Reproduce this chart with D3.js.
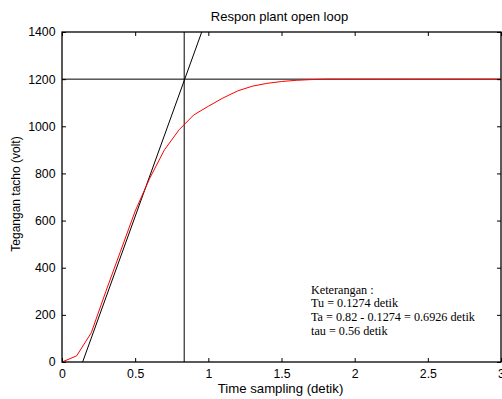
<!DOCTYPE html>
<html><head><meta charset="utf-8">
<script src="https://cdn.jsdelivr.net/npm/d3@7"></script>
<style>body{margin:0;background:#fff}svg{display:block}</style>
</head><body>
<script>
const timeValues = [0,0.1,0.2,0.3,0.4,0.5,0.6,0.7,0.8,0.9,1.0,1.1,1.2,1.3,1.4,1.5,1.6,1.7,1.8,1.9,2.0,2.2,2.4,2.6,2.8,3.0];
const voltValues = [0,26,124,300,470,640,780,900,985,1048,1085,1120,1150,1170,1182,1190,1195,1198,1200,1200,1200,1200,1200,1200,1200,1200];
const tangentX = [0.141,0.955];
const tangentY = [0,1400];
const refTime = 0.835;
const refVolt = 1200;
const xTicks = [0,0.5,1,1.5,2,2.5,3];
const yTicks = [0,200,400,600,800,1000,1200,1400];
const noteLines = ["Keterangan :","Tu = 0.1274 detik","Ta = 0.82 - 0.1274 = 0.6926 detik","tau = 0.56 detik"];

const W=502,H=399;
const m={l:62,r:1,t:32,b:37};
const svg=d3.select("body").append("svg").attr("width",W).attr("height",H);
const x=d3.scaleLinear().domain([0,3]).range([m.l,W-m.r]);
const y=d3.scaleLinear().domain([0,1400]).range([H-m.b,m.t]);
const font="Liberation Sans, Arial, sans-serif";

svg.append("defs").append("clipPath").attr("id","clip").append("rect")
  .attr("x",m.l).attr("y",m.t).attr("width",x(3)-m.l).attr("height",y(0)-m.t);

const g=svg.append("g").attr("clip-path","url(#clip)");
g.append("line").attr("x1",x(0)).attr("x2",x(3)).attr("y1",y(refVolt)).attr("y2",y(refVolt)).attr("stroke","#000").attr("stroke-width",1);
g.append("line").attr("x1",x(refTime)).attr("x2",x(refTime)).attr("y1",y(0)).attr("y2",y(1400)).attr("stroke","#000").attr("stroke-width",1);
g.append("line").attr("x1",x(tangentX[0])).attr("x2",x(tangentX[1])).attr("y1",y(tangentY[0])).attr("y2",y(tangentY[1])).attr("stroke","#000").attr("stroke-width",1);
g.append("path").datum(timeValues.map((t,i)=>[t,voltValues[i]]))
  .attr("d",d3.line().x(d=>x(d[0])).y(d=>y(d[1])))
  .attr("fill","none").attr("stroke","#ff0000").attr("stroke-width",1);

function styleAxis(sel){
  sel.select(".domain").remove();
  sel.selectAll("line").attr("stroke","#000");
  sel.selectAll("text").attr("font-family",font).attr("font-size","12.3px").attr("fill","#000");
}
svg.append("g").attr("transform",`translate(0,${y(0)})`)
  .call(d3.axisBottom(x).tickValues(xTicks).tickFormat(d3.format("")).tickSizeInner(-4).tickSizeOuter(0).tickPadding(7))
  .call(styleAxis);
svg.append("g").attr("transform",`translate(${m.l},0)`)
  .call(d3.axisLeft(y).tickValues(yTicks).tickFormat(d3.format("")).tickSizeInner(-4).tickSizeOuter(0).tickPadding(6.5))
  .call(styleAxis);
svg.append("g").attr("transform",`translate(0,${m.t})`)
  .call(d3.axisTop(x).tickValues(xTicks).tickFormat("").tickSizeInner(-4).tickSizeOuter(0))
  .call(styleAxis);
svg.append("g").attr("transform",`translate(${W-m.r},0)`)
  .call(d3.axisRight(y).tickValues(yTicks).tickFormat("").tickSizeInner(-4).tickSizeOuter(0))
  .call(styleAxis);

svg.append("rect").attr("x",m.l).attr("y",m.t).attr("width",x(3)-m.l).attr("height",y(0)-m.t)
  .attr("fill","none").attr("stroke","#000").attr("stroke-width",1.3);

svg.append("text").attr("x",(x(0)+x(3))/2-2).attr("y",21).attr("text-anchor","middle")
  .attr("font-family",font).attr("font-size","13px").text("Respon plant open loop");
svg.append("text").attr("x",(x(0)+x(3))/2-1).attr("y",393).attr("text-anchor","middle")
  .attr("font-family",font).attr("font-size","13.2px").text("Time sampling (detik)");
svg.append("text").attr("transform",`translate(20,${(y(0)+y(1400))/2-3}) rotate(-90)`).attr("text-anchor","middle")
  .attr("font-family",font).attr("font-size","12px").text("Tegangan tacho (volt)");

const note=svg.append("text").attr("font-family","Liberation Serif, Times New Roman, serif").attr("font-size","12.2px");
noteLines.forEach((s,i)=>note.append("tspan").attr("x",311).attr("y",293.5+i*13.8).text(s));
</script>
</body></html>
